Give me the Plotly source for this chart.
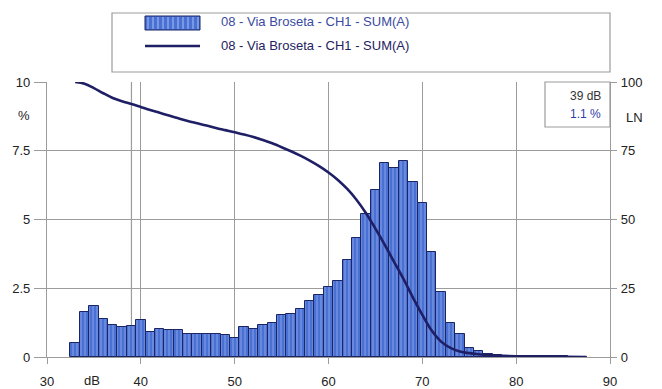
import plotly.graph_objects as go

# Level distribution (1 dB classes) and cumulative exceedance LN
levels_db = list(range(33, 88))
share_pct = [
    0.50, 1.64, 1.84, 1.38, 1.18, 1.10, 1.12, 1.36, 0.90, 1.02,   # 33-42
    1.00, 1.00, 0.82, 0.82, 0.83, 0.82, 0.79, 0.70, 1.10, 1.03,   # 43-52
    1.18, 1.24, 1.51, 1.57, 1.76, 2.05, 2.27, 2.55, 2.76, 3.53,   # 53-62
    4.33, 5.20, 6.07, 7.05, 6.87, 7.13, 6.36, 5.60, 3.83, 2.37,   # 63-72
    1.25, 0.84, 0.33, 0.23, 0.12, 0.08, 0.05, 0.04, 0.03, 0.03,   # 73-82
    0.02, 0.02, 0.02, 0.01, 0.01,                                 # 83-87
]

ln_db = [33, 34, 35, 36, 37, 38, 39, 40, 41, 42, 43, 44, 45, 46, 47, 48, 49,
         50, 51, 52, 53, 54, 55, 56, 57, 58, 59, 60, 61, 62, 63, 64, 65, 66,
         67, 68, 69, 70, 71, 72, 73, 74, 75, 76, 77, 78, 80, 83, 87.5]
ln_pct = [100, 99.4, 97.8, 95.9, 94.2, 93.0, 92.0, 90.9, 89.8, 88.8, 87.8,
          86.8, 85.8, 85.0, 84.2, 83.3, 82.5, 81.7, 80.9, 80.0, 78.9, 77.7,
          76.3, 74.8, 73.2, 71.4, 69.4, 67.1, 64.4, 61.1, 57.1, 52.3, 46.7,
          40.8, 34.5, 28.3, 21.6, 15.3, 9.6, 5.6, 3.3, 2.0, 1.4, 1.0, 0.7,
          0.5, 0.3, 0.15, 0.0]

series_name = "08 - Via Broseta - CH1 - SUM(A)"
cursor_db = 39
cursor_pct = 1.1

x_ticks = [30, 40, 50, 60, 70, 80, 90]
y_ticks = [0, 2.5, 5, 7.5, 10]
y_tick_text = ["0", "2.5", "5", "7.5", "10"]
ln_ticks = [0, 25, 50, 75, 100]

W, H = 662, 389
ML, MR, MT, MB = 47, 52, 82, 32
PW, PH = W - ML - MR, H - MT - MB

GRID = "#9c9c9c"
BAR_FILL = "#4a70d4"
BAR_STRIPE = "#a9c1f3"
BAR_EDGE = "#1b2563"
LINE_COL = "#1f1f66"
FONT = "Liberation Sans, Arial, sans-serif"


def px(x):
    return (x - ML) / PW


def py(y):
    return (H - MB - y) / PH


fig = go.Figure()

fig.add_trace(go.Bar(
    x=levels_db, y=share_pct, width=1.0,
    marker=dict(
        color=BAR_FILL,
        line=dict(color=BAR_EDGE, width=1),
        pattern=dict(shape="|", fgcolor=BAR_STRIPE, bgcolor=BAR_FILL,
                     size=4, solidity=0.3),
    ),
    name=series_name, showlegend=False,
))

fig.add_trace(go.Scatter(
    x=ln_db, y=ln_pct, yaxis="y2", mode="lines",
    line=dict(color=LINE_COL, width=2.6, shape="spline", smoothing=1.0),
    name=series_name, showlegend=False,
))

shapes = []
annotations = []

# cursor line
shapes.append(dict(type="line", xref="x", yref="y", x0=cursor_db, x1=cursor_db,
                   y0=0, y1=10, line=dict(color=GRID, width=1.2), layer="below"))

# cursor read-out box
shapes.append(dict(type="rect", xref="paper", yref="paper",
                   x0=px(545), x1=1.0, y0=py(127), y1=1.0,
                   line=dict(color=GRID, width=1.2), fillcolor="white", layer="above"))
annotations.append(dict(xref="paper", yref="paper", x=px(603), y=py(96),
                        xanchor="right", yanchor="middle", showarrow=False,
                        text=f"{cursor_db} dB", font=dict(size=12, color="#333333", family=FONT)))
annotations.append(dict(xref="paper", yref="paper", x=px(603), y=py(114),
                        xanchor="right", yanchor="middle", showarrow=False,
                        text=f"{cursor_pct} %", font=dict(size=12, color="#3040a8", family=FONT)))

# legend frame and entries
shapes.append(dict(type="rect", xref="paper", yref="paper",
                   x0=px(112), x1=px(610), y0=py(72), y1=py(13),
                   line=dict(color=GRID, width=1.2), fillcolor="white"))
shapes.append(dict(type="rect", xref="paper", yref="paper",
                   x0=px(145), x1=px(200), y0=py(30), y1=py(16),
                   line=dict(color=BAR_EDGE, width=1), fillcolor=BAR_FILL))
for k in range(11):
    xs = 148 + k * 5
    shapes.append(dict(type="line", xref="paper", yref="paper",
                       x0=px(xs), x1=px(xs), y0=py(29), y1=py(17),
                       line=dict(color=BAR_STRIPE, width=1)))
shapes.append(dict(type="line", xref="paper", yref="paper",
                   x0=px(145), x1=px(200), y0=py(46), y1=py(46),
                   line=dict(color=LINE_COL, width=2.6)))
annotations.append(dict(xref="paper", yref="paper", x=px(219), y=py(22),
                        xanchor="left", yanchor="middle", showarrow=False,
                        text=series_name, font=dict(size=13, color="#3a4aa0", family=FONT)))
annotations.append(dict(xref="paper", yref="paper", x=px(219), y=py(45),
                        xanchor="left", yanchor="middle", showarrow=False,
                        text=series_name, font=dict(size=13, color="#1e2260", family=FONT)))

# axis captions
annotations.append(dict(xref="paper", yref="paper", x=px(24), y=py(115),
                        xanchor="center", yanchor="middle", showarrow=False,
                        text="%", font=dict(size=13, color="#222222", family=FONT)))
annotations.append(dict(xref="paper", yref="paper", x=px(634), y=py(117),
                        xanchor="center", yanchor="middle", showarrow=False,
                        text="LN", font=dict(size=13, color="#222222", family=FONT)))
annotations.append(dict(xref="paper", yref="paper", x=px(92), y=py(380),
                        xanchor="center", yanchor="middle", showarrow=False,
                        text="dB", font=dict(size=13, color="#222222", family=FONT)))

fig.update_layout(
    width=W, height=H,
    margin=dict(l=ML, r=MR, t=MT, b=MB, pad=0, autoexpand=False),
    paper_bgcolor="white", plot_bgcolor="white",
    font=dict(family=FONT, size=13, color="#222222"),
    bargap=0,
    showlegend=False,
    shapes=shapes,
    annotations=annotations,
    xaxis=dict(
        range=[30, 90], tickvals=x_ticks, showgrid=True, gridcolor=GRID, gridwidth=1.2,
        showline=True, linecolor=GRID, linewidth=1.2, zeroline=False,
        ticks="outside", ticklen=6, tickcolor=GRID, tickwidth=1.2,
        ticklabelstandoff=6, automargin=False,
        tickfont=dict(size=13, color="#222222"),
    ),
    yaxis=dict(
        range=[0, 10], tickvals=y_ticks, ticktext=y_tick_text,
        showgrid=True, gridcolor=GRID, gridwidth=1.2,
        showline=True, linecolor=GRID, linewidth=1.2, zeroline=False,
        ticks="outside", ticklen=12, tickcolor=GRID, tickwidth=1.2,
        ticklabelstandoff=1, automargin=False,
        tickfont=dict(size=13, color="#222222"),
    ),
    yaxis2=dict(
        range=[0, 100], tickvals=ln_ticks, overlaying="y", side="right",
        showgrid=False, zeroline=False,
        showline=True, linecolor=GRID, linewidth=1.2,
        ticks="outside", ticklen=6, tickcolor=GRID, tickwidth=1.2,
        ticklabelstandoff=1, automargin=False,
        tickfont=dict(size=13, color="#222222"),
    ),
)

fig.write_html("out.html")
